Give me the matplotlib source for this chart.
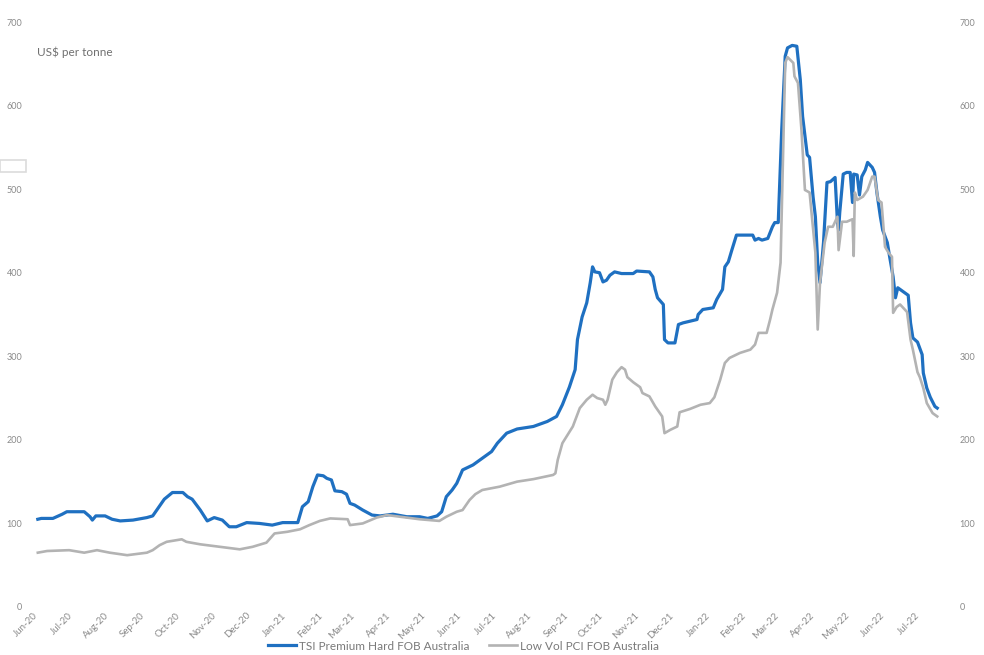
import datetime as dt
import matplotlib
matplotlib.use("Agg")
import matplotlib.pyplot as plt
import matplotlib.dates as mdates
from matplotlib.patches import Rectangle

plt.rcParams['font.family'] = ['Lato', 'DejaVu Sans']

# ---------------- data ----------------
start_date = dt.date(2020, 6, 1)

# days after 1 Jun 2020, US$ per tonne
tsi_days = [1, 4, 14, 22, 26, 41, 46, 48, 51, 59, 65, 72, 83, 95, 100, 103, 110, 117, 126,
            130, 134, 141, 147, 153, 160, 166, 172, 181, 192, 203, 212, 225, 229, 234, 238,
            242, 247, 250, 254, 257, 263, 267, 270, 274, 281, 289, 296, 307, 319, 330, 337,
            345, 349, 353, 358, 362, 367, 376, 384, 392, 397, 405, 414, 428, 440, 448, 453,
            459, 464, 466, 470, 474, 477, 479, 481, 485, 488, 491, 494, 498, 504, 514, 517,
            528, 531, 533, 535, 540, 541, 544, 550, 553, 557, 569, 570, 574, 583, 586, 591,
            593, 596, 599, 603, 617, 619, 622, 625, 630, 634, 636, 639, 642, 645, 647, 651,
            655, 658, 660, 664, 666, 669, 671, 673, 675, 678, 681, 684, 688, 690, 691, 692,
            695, 698, 701, 703, 704, 707, 709, 711, 714, 716, 720, 722, 724, 727, 729, 733,
            735, 738, 740, 742, 747, 751, 753, 755, 759, 763, 764, 767, 770, 774, 776]
tsi_values = [105, 106, 106, 111, 114, 114, 108, 104, 109, 109, 105, 103, 104, 107, 109, 115,
              129, 137, 137, 132, 129, 116, 103, 107, 104, 96, 96, 101, 100, 98, 101, 101,
              120, 126, 144, 158, 157, 154, 152, 139, 138, 135, 124, 122, 116, 110, 109, 111,
              108, 108, 106, 109, 114, 132, 140, 148, 164, 170, 178, 186, 196, 208, 213, 216,
              222, 228, 242, 263, 284, 320, 347, 364, 388, 407, 401, 400, 389, 391, 397, 401,
              399, 399, 402, 401, 395, 380, 370, 362, 320, 316, 316, 338, 340, 344, 350, 356,
              358, 368, 380, 407, 413, 427, 445, 445, 439, 441, 439, 441, 455, 460, 460, 571,
              659, 669, 672, 671, 631, 587, 541, 538, 491, 467, 412, 388, 436, 508, 509, 514,
              461, 451, 472, 518, 520, 520, 484, 518, 517, 493, 515, 523, 532, 526, 520, 496,
              467, 451, 436, 419, 395, 370, 382, 377, 373, 340, 322, 317, 302, 280, 262, 251,
              240, 238]

pci_days = [1, 9, 28, 41, 52, 63, 78, 95, 100, 106, 112, 125, 129, 141, 158, 175, 186, 198,
            205, 216, 227, 235, 244, 253, 268, 270, 281, 293, 302, 313, 330, 347, 353, 362,
            367, 373, 378, 384, 399, 414, 428, 445, 447, 449, 453, 462, 468, 474, 479, 483,
            488, 490, 492, 496, 500, 504, 507, 509, 514, 520, 522, 528, 533, 539, 541, 546,
            552, 554, 563, 572, 580, 584, 589, 593, 597, 606, 615, 619, 622, 629, 632, 634,
            638, 641, 643, 645, 647, 652, 653, 656, 659, 662, 666, 671, 673, 675, 679, 682,
            686, 690, 691, 694, 698, 703, 704, 705, 707, 712, 716, 720, 722, 725, 728, 731,
            734, 737, 738, 741, 744, 750, 753, 755, 759, 761, 764, 767, 772, 776]
pci_values = [65, 67, 68, 65, 68, 65, 62, 65, 68, 74, 78, 81, 78, 75, 72, 69, 72, 77, 88, 90,
              93, 98, 103, 106, 105, 98, 100, 107, 110, 108, 105, 103, 108, 114, 116, 128, 135,
              140, 144, 150, 153, 158, 160, 176, 196, 216, 238, 248, 254, 250, 248, 242, 248,
              272, 281, 287, 284, 275, 269, 263, 256, 252, 240, 228, 208, 212, 216, 233, 237,
              242, 244, 251, 272, 292, 298, 304, 308, 314, 328, 328, 344, 356, 376, 412, 531,
              651, 658, 651, 635, 627, 571, 499, 496, 424, 332, 388, 436, 455, 455, 467, 427,
              461, 461, 464, 420, 496, 487, 491, 499, 515, 515, 487, 484, 431, 424, 419, 352,
              359, 362, 353, 320, 308, 281, 275, 262, 244, 232, 228]

series_names = ["TSI Premium Hard FOB Australia", "Low Vol PCI FOB Australia"]
series_colors = ["#1f70c1", "#b3b3b3"]
y_ticks = [0, 100, 200, 300, 400, 500, 600, 700]
unit_label = "US$ per tonne"

# ---------------- figure ----------------
W, H = 984, 655
fig = plt.figure(figsize=(W / 100, H / 100), dpi=100)
fig.patch.set_facecolor("white")

ax_left, ax_right = 32, 950
ax_top, ax_bottom = 22, 607
ax = fig.add_axes([ax_left / W, 1 - ax_bottom / H, (ax_right - ax_left) / W, (ax_bottom - ax_top) / H])

def to_dates(days):
    return [start_date + dt.timedelta(days=d) for d in days]

l1, = ax.plot(to_dates(tsi_days), tsi_values, color=series_colors[0], lw=2.3,
              solid_joinstyle="round", zorder=3)
l2, = ax.plot(to_dates(pci_days), pci_values, color=series_colors[1], lw=1.9,
              solid_joinstyle="round", zorder=4)

px_per_day = 1.16
x0 = start_date - dt.timedelta(days=(37 - ax_left) / px_per_day)
x1 = start_date + dt.timedelta(days=(ax_right - 37) / px_per_day)
ax.set_xlim(x0, x1)
ax.set_ylim(0, 700)

for s in ax.spines.values():
    s.set_visible(False)

ax.set_yticks(y_ticks)
ax.set_yticklabels([str(v) for v in y_ticks])
ax.tick_params(axis="y", length=0, labelsize=6.5, labelcolor="#8a8a8a",
               labelleft=True, labelright=True, pad=7)

ax.xaxis.set_major_locator(mdates.MonthLocator(bymonthday=1))
ax.xaxis.set_major_formatter(mdates.DateFormatter("%b-%y"))
ax.tick_params(axis="x", length=0, labelsize=7, labelcolor="#8a8a8a", pad=5)
for lab in ax.get_xticklabels():
    lab.set_rotation(45)
    lab.set_ha("right")
    lab.set_va("center")
    lab.set_rotation_mode("anchor")

ax.text(37 / W, 1 - 52 / H, unit_label, transform=fig.transFigure, fontsize=8.5,
        color="#707070", va="center", ha="left")

leg = fig.legend([l1, l2], series_names, loc="center left",
                 bbox_to_anchor=(268 / W, 1 - 646 / H), ncol=2, frameon=False,
                 fontsize=8.5, handlelength=2.4, handletextpad=0.25,
                 columnspacing=1.6, borderpad=0, borderaxespad=0)
for t in leg.get_texts():
    t.set_color("#7a7a7a")

fig.patches.append(Rectangle((0, 1 - 172 / H), 26 / W, 12 / H, transform=fig.transFigure,
                             fill=False, edgecolor="#dcdcdc", lw=1.2))

fig.savefig("out.png", dpi=100, facecolor="white")
